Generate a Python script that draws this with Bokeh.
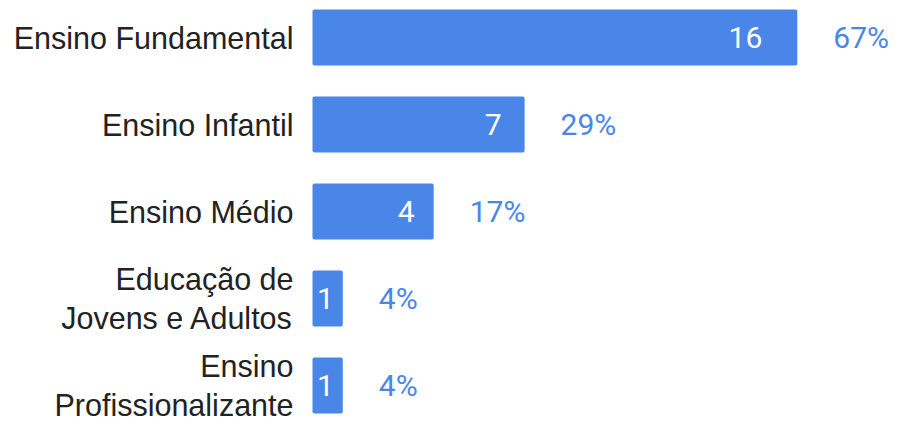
from bokeh.plotting import figure
from bokeh.models import ColumnDataSource, Range1d
from bokeh.core.properties import value
from bokeh.embed import file_html
from bokeh.resources import INLINE

# ---- data ----
categories = [
    "Ensino Fundamental",
    "Ensino Infantil",
    "Ensino Médio",
    "Educação de\nJovens e Adultos",
    "Ensino\nProfissionalizante",
]
counts = [16, 7, 4, 1, 1]
percents = ["67%", "29%", "17%", "4%", "4%"]

# ---- style ----
BAR_COLOR = "#4a86e8"
TEXT_COLOR = "#222222"
value_pad = [35, 23, 19, 9, 9]  # px from bar end for the in-bar count labels

positions = list(range(len(categories)))
src = ColumnDataSource(dict(
    y=positions,
    cat=categories,
    n=counts,
    nlab=[str(c) for c in counts],
    pct=percents,
    pad=[-p for p in value_pad],
))

W, H = 897, 422
p = figure(
    width=W, height=H,
    x_range=Range1d(-10.297, 19.307),
    y_range=Range1d(4.4253, -0.4253),
    output_backend="svg", toolbar_location=None,
    min_border=0, min_border_left=0, min_border_right=0,
    min_border_top=0, min_border_bottom=0,
)
p.axis.visible = False
p.grid.visible = False
p.outline_line_color = None
p.background_fill_color = "white"
p.border_fill_color = "white"

p.hbar(y="y", left=0, right="n", height=0.6437, source=src,
       fill_color=BAR_COLOR, line_color=None, border_radius=2)

# category labels
p.text(x=0, y="y", text="cat", source=src, x_offset=-19,
       text_align="right", text_baseline="middle",
       text_font=value("Liberation Sans"), text_font_size="30.5px",
       text_color=TEXT_COLOR, text_line_height=1.12)

# counts inside bars
p.text(x="n", y="y", text="nlab", source=src, x_offset="pad",
       text_align="right", text_baseline="middle",
       text_font=value("Roboto"), text_font_size="30px",
       text_color="white")

# percentages after bars
p.text(x="n", y="y", text="pct", source=src, x_offset=36,
       text_align="left", text_baseline="middle",
       text_font=value("Roboto"), text_font_size="30px",
       text_color=BAR_COLOR)

open("out.html", "w").write(file_html(p, INLINE))
